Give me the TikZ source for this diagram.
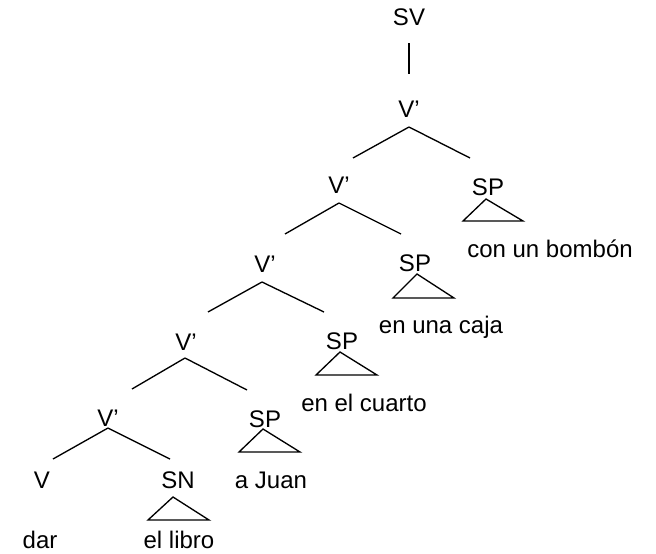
\documentclass[tikz,border=0pt]{standalone}
\usepackage{fontspec}
\setmainfont{Liberation Sans}
\usepackage{tikz}

\begin{document}
\begin{tikzpicture}[
  x=0.75pt, y=-0.75pt,
  line width=1pt,
  cat/.style={inner sep=0pt, anchor=base, font=\fontsize{18}{21}\selectfont},
  word/.style={inner sep=0pt, anchor=base, font=\fontsize{18}{21}\selectfont}
]
\useasboundingbox (0,0) rectangle (656,553);

% categories
\node[cat] (sv) at (409,26) {SV};
\node[cat] (v1) at (409,117) {V’};
\node[cat] (v2) at (339,193) {V’};
\node[cat] (v3) at (265,272) {V’};
\node[cat] (v4) at (186,350) {V’};
\node[cat] (v5) at (108,426) {V’};
\node[cat] (v) at (42,488) {V};
\node[cat] (sn) at (178,488) {SN};
\node[cat] (sp1) at (488,195) {SP};
\node[cat] (sp2) at (415,271) {SP};
\node[cat] (sp3) at (342,349) {SP};
\node[cat] (sp4) at (265,427) {SP};

% words
\node[word] (bombon) at (550,257) {con un bombón};
\node[word] (caja) at (441,333) {en una caja};
\node[word] (cuarto) at (364,411) {en el cuarto};
\node[word] (juan) at (271,488) {a Juan};
\node[word] (libro) at (179,548) {el libro};
\node[word] (dar) at (40,548) {dar};

% branch points
\coordinate (sv-b) at (409,43);
\coordinate (v1-t) at (409,74);
\coordinate (v1-b) at (409,127);
\coordinate (v2-t) at (353,158);
\coordinate (sp1-t) at (470,158);
\coordinate (v2-b) at (339,203);
\coordinate (v3-t) at (285,234);
\coordinate (sp2-t) at (401,234);
\coordinate (v3-b) at (262,282);
\coordinate (v4-t) at (208,312);
\coordinate (sp3-t) at (324,312);
\coordinate (v4-b) at (185,358);
\coordinate (v5-t) at (132,389);
\coordinate (sp4-t) at (247,390);
\coordinate (v5-b) at (108,428);
\coordinate (v-t) at (53,459);
\coordinate (sn-t) at (170,459);

\draw (sv-b) -- (v1-t);
\draw (v1-b) -- (v2-t);
\draw (v1-b) -- (sp1-t);
\draw (v2-b) -- (v3-t);
\draw (v2-b) -- (sp2-t);
\draw (v3-b) -- (v4-t);
\draw (v3-b) -- (sp3-t);
\draw (v4-b) -- (v5-t);
\draw (v4-b) -- (sp4-t);
\draw (v5-b) -- (v-t);
\draw (v5-b) -- (sn-t);

% triangles
\coordinate (sp1-r) at (486,199);
\coordinate (sp2-r) at (417,274);
\coordinate (sp3-r) at (340,352);
\coordinate (sp4-r) at (263,429);
\coordinate (sn-r) at (173,497);
\draw (sp1-r) -- ++(-23,22) -- ++(60,0) -- cycle;
\draw (sp2-r) -- ++(-24,24) -- ++(61,0) -- cycle;
\draw (sp3-r) -- ++(-24,23) -- ++(61,0) -- cycle;
\draw (sp4-r) -- ++(-24,23) -- ++(61,0) -- cycle;
\draw (sn-r) -- ++(-25,23) -- ++(61,0) -- cycle;
\end{tikzpicture}
\end{document}
